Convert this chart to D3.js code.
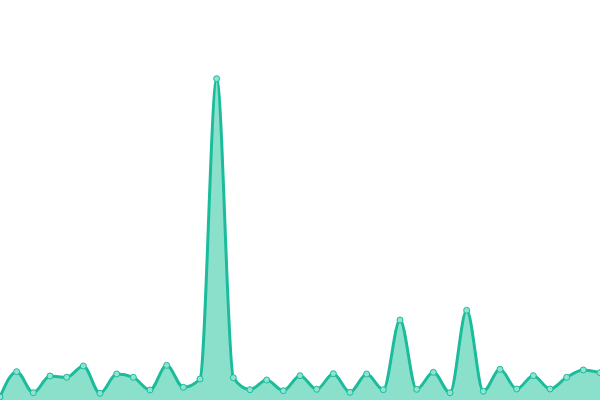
<!DOCTYPE html>
<html><head><meta charset="utf-8">
<script src="https://cdn.jsdelivr.net/npm/d3@7"></script>
<style>html,body{margin:0;padding:0;background:#fff;}svg{display:block;}</style>
</head><body>
<svg id="c" width="600" height="400"></svg>
<script>
const indices = d3.range(37);
const values = [3, 28.3, 7.3, 24, 22.7, 34, 6.7, 26, 22.7, 10, 34.7, 12.7, 21,
  321.3, 22.3, 10.3, 20, 9.3, 24.3, 10.7, 26.3, 7.7, 26, 10.3, 80,
  10.7, 27.7, 7.3, 89.7, 8.7, 30.7, 11, 24.3, 11, 22.7, 30, 27.3];

const W = 600, H = 400;
const svg = d3.select("#c");
const x = d3.scaleLinear().domain([0, values.length - 1]).range([0, W]);
const y = d3.scaleLinear().domain([0, 400]).range([H, 0]);
const data = values.map((v, i) => ({i, v}));

svg.append("path").datum(data)
  .attr("fill", "#8be0cc")
  .attr("d", d3.area().x(d => x(d.i)).y0(y(0)).y1(d => y(d.v)).curve(d3.curveMonotoneX));
svg.append("path").datum(data)
  .attr("fill", "none").attr("stroke", "#1bbc9b").attr("stroke-width", 3)
  .attr("d", d3.line().x(d => x(d.i)).y(d => y(d.v)).curve(d3.curveMonotoneX));
svg.selectAll("circle").data(data).join("circle")
  .attr("cx", d => x(d.i)).attr("cy", d => y(d.v)).attr("r", 3)
  .attr("fill", "#90e3d0").attr("stroke", "#1bbc9b").attr("stroke-width", 1);
</script>
</body></html>
